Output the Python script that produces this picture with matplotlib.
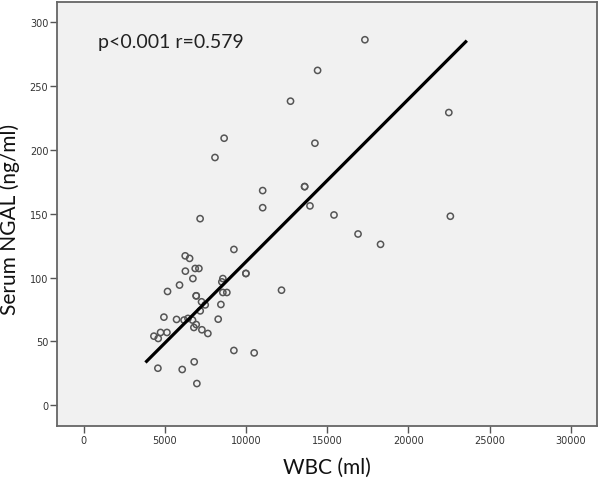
import matplotlib
matplotlib.use('Agg')
import matplotlib.pyplot as plt

# WBC (x) and serum NGAL (y) values
wbc = [17320, 14405, 12737, 22490, 8648, 14241, 8084, 11022, 13607, 13607,
       11022, 13936, 15416, 22584, 7168, 16897, 18283, 9250, 6250, 6520,
       6260, 6866, 7093, 6723, 8569, 8508, 9988, 9988, 5900, 5161,
       8569, 8815, 12182, 6927, 6927, 7256, 7482, 8448, 7174, 8282,
       4938, 5716, 6180, 6420, 6700, 6927, 6784, 7278, 7646, 4731,
       5123, 4322, 4587, 9248, 10499, 6804, 4567, 6065, 6968]
ngal = [286.2, 262.2, 238.1, 229.2, 209.1, 205.2, 194.0, 168.1, 171.2, 171.2,
        154.7, 156.1, 149.0, 148.0, 146.1, 134.1, 126.0, 122.0, 117.0, 115.0,
        105.0, 107.1, 107.1, 99.2, 99.2, 96.6, 103.2, 103.2, 94.1, 89.1,
        88.3, 88.3, 90.1, 85.7, 85.7, 81.0, 78.6, 78.9, 73.9, 67.4,
        69.0, 67.2, 66.7, 68.0, 66.7, 63.2, 60.9, 59.1, 56.2, 57.0,
        57.0, 54.1, 52.3, 42.9, 41.0, 34.0, 29.0, 28.0, 17.0]

# fit line end points as drawn in the figure
fit_x = [3800, 23600]
fit_y = [33.5, 285.5]

x_ticks = [0, 5000, 10000, 15000, 20000, 25000, 30000]
y_ticks = [0, 50, 100, 150, 200, 250, 300]

fig = plt.figure(figsize=(6.0, 4.81), dpi=100)
ax = fig.add_axes([0.0955, 0.1116, 0.899, 0.8828])
ax.set_facecolor('#f1f1f1')

ax.scatter(wbc, ngal, s=20, facecolors='none', edgecolors='#555555',
           linewidths=1.1, zorder=3)
ax.plot(fit_x, fit_y, color='black', linewidth=2.3, solid_capstyle='butt', zorder=4)

ax.set_xlim(-1630, 31600)
ax.set_ylim(-16.5, 316)
ax.set_xticks(x_ticks)
ax.set_yticks(y_ticks)
ax.tick_params(axis='both', direction='out', length=5, width=1.0,
               color='#555555', labelsize=7, labelcolor='#333333', pad=1.5)

for side in ['top', 'right', 'bottom', 'left']:
    ax.spines[side].set_color('#666666')
    ax.spines[side].set_linewidth(1.3)

ax.text(0.076, 0.893, 'p<0.001 r=0.579', transform=ax.transAxes,
        fontsize=14, family='Lato', color='#222222', va='baseline')

ax.set_xlabel('WBC (ml)', fontsize=15, family='Lato', color='#111111', labelpad=8)
ax.set_ylabel('Serum NGAL (ng/ml)', fontsize=15, family='Lato', color='#111111')
ax.yaxis.set_label_coords(-0.069, 0.49)

fig.savefig('out.png', dpi=100, facecolor='white')
